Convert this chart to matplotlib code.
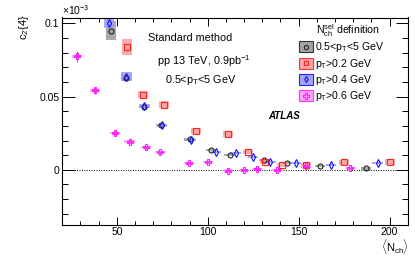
import matplotlib
matplotlib.use("Agg")
import matplotlib.pyplot as plt
from matplotlib.patches import Rectangle
from matplotlib.lines import Line2D
from matplotlib.ticker import MultipleLocator, FixedLocator, FixedFormatter

plt.rcParams['font.family'] = ['Liberation Sans', 'DejaVu Sans']
plt.rcParams['mathtext.fontset'] = 'custom'
plt.rcParams['mathtext.rm'] = 'Liberation Sans'
plt.rcParams['mathtext.it'] = 'Liberation Sans:italic'
plt.rcParams['mathtext.bf'] = 'Liberation Sans:bold'

# ---- data (c2{4} in units of 1e-3) ----
x_black = [46.8, 55.0, 65.0, 74.5, 90.0, 102.0, 112.0, 131.0, 143.5, 161.8, 187.1]
y_black = [0.0950, 0.0628, 0.0432, 0.0306, 0.0210, 0.0137, 0.0103, 0.0068, 0.0046, 0.0027, 0.0009]
s_black = [0.0065, 0.0025, 0.0012, 0.0010, 0.0010, 0.0008, 0.0008, 0.0008, 0.0008, 0.0008, 0.0008]

x_red = [55.7, 64.5, 76.0, 93.4, 111.1, 122.1, 131.3, 140.7, 154.1, 174.8, 200.4]
y_red = [0.0838, 0.0514, 0.0445, 0.0262, 0.0242, 0.0121, 0.0053, 0.0034, 0.0030, 0.0050, 0.0053]
s_red = [0.0057, 0.0025, 0.0026, 0.0020, 0.0020, 0.0016, 0.0015, 0.0012, 0.0015, 0.0015, 0.0018]

x_blue = [45.8, 55.3, 65.2, 75.0, 91.0, 104.7, 115.3, 124.8, 134.5, 148.3, 167.9, 193.4]
y_blue = [0.1000, 0.0636, 0.0436, 0.0304, 0.0205, 0.0121, 0.0114, 0.0087, 0.0053, 0.0046, 0.0034, 0.0046]
s_blue = [0.0030, 0.0030, 0.0015, 0.0010, 0.0008, 0.0006, 0.0006, 0.0006, 0.0006, 0.0006, 0.0006, 0.0006]

x_mag = [28.0, 38.0, 49.0, 57.0, 66.0, 74.0, 89.5, 100.0, 111.0, 120.0, 127.0, 138.0, 154.0, 178.5]
y_mag = [0.0774, 0.0543, 0.0251, 0.0192, 0.0155, 0.0121, 0.0046, 0.0053, -0.0005, -0.0003, 0.0005, 0.0000, 0.0023, 0.0011]
s_mag = [0.0012, 0.0012, 0.0010, 0.0010, 0.0009, 0.0008, 0.0008, 0.0008, 0.0008, 0.0008, 0.0008, 0.0008, 0.0010, 0.0008]
e_mag = [0.0035, 0.0025, 0.0012, 0.0010, 0.0010, 0.0010, 0.0008, 0.0008, 0.0008, 0.0008, 0.0008, 0.0008, 0.0010, 0.0008]

legend_labels = ["0.5<p$_{\\mathrm{T}}$<5 GeV", "p$_{\\mathrm{T}}$>0.2 GeV",
                 "p$_{\\mathrm{T}}$>0.4 GeV", "p$_{\\mathrm{T}}$>0.6 GeV"]

W, H = 415, 259
fig = plt.figure(figsize=(W / 100, H / 100), dpi=100)
L, R, T, B = 62.3, 407.7, 17.5, 224.7
ax = fig.add_axes([L / W, 1 - B / H, (R - L) / W, (B - T) / H])
ax.set_xlim(20, 210)
ax.set_ylim(-0.0375, 0.104)

def px(x, y):
    return (x / W, 1 - y / H)

series = [
    (x_black, y_black, s_black, None, '#9a9a9a', '#222222', 'o', 3.6),
    (x_red, y_red, s_red, None, '#ff9a9a', '#ff2020', 's', 4.0),
    (x_blue, y_blue, s_blue, None, '#9a9aff', '#1010ff', 'd', 3.6),
    (x_mag, y_mag, s_mag, e_mag, '#ff9aff', '#ff20ff', 'P', 4.3),
]
hw = 2.8
for xs, ys, ss, es, fc, ec, mk, ms in series:
    for xv, yv, sv in zip(xs, ys, ss):
        ax.add_patch(Rectangle((xv - hw, yv - sv), 2 * hw, 2 * sv,
                               facecolor=fc, edgecolor='none', alpha=0.85, zorder=2))
    ax.plot(xs, ys, linestyle='none', marker=mk, ms=ms, mfc='none',
            mec=ec, mew=0.8, zorder=4)
    ax.errorbar(xs, ys, yerr=es, xerr=[1.5] * len(xs) if es is not None else None,
                fmt='none', ecolor=ec, elinewidth=0.7, capsize=0, zorder=3)

ax.axhline(0, color='black', lw=0.7, ls=(0, (1, 1.5)), zorder=1)

ax.xaxis.set_major_locator(MultipleLocator(50))
ax.xaxis.set_minor_locator(MultipleLocator(10))
ax.yaxis.set_major_locator(FixedLocator([0, 0.05, 0.1]))
ax.yaxis.set_major_formatter(FixedFormatter(['0', '0.05', '0.1']))
ax.yaxis.set_minor_locator(MultipleLocator(0.01))
ax.tick_params(which='both', direction='in', top=True, right=True,
               labelsize=7.5, width=0.7, pad=2)
ax.tick_params(which='major', axis='x', length=6)
ax.tick_params(which='minor', axis='x', length=3)
ax.tick_params(which='major', axis='y', length=9)
ax.tick_params(which='minor', axis='y', length=4.5)
for sp in ax.spines.values():
    sp.set_linewidth(0.8)

fs = 7.8
fig.text(*px(148, 38), "Standard method", fontsize=fs, va='center', ha='left')
fig.text(*px(157, 61), "pp 13 TeV, 0.9pb$^{-1}$", fontsize=fs, va='center', ha='left')
fig.text(*px(165, 80), "0.5<p$_{\\mathrm{T}}$<5 GeV", fontsize=fs, va='center', ha='left')
fig.text(*px(268, 116), "ATLAS", fontsize=7, fontweight='bold', style='italic',
         va='center', ha='left')
fig.text(*px(62, 10), "\u00d710$^{-3}$", fontsize=7.5, va='center', ha='left')
fig.text(*px(24, 27), "c$_{2}${4}", fontsize=8, rotation=90, va='center', ha='center')
fig.text(*px(395, 246), "$\\langle\\mathrm{N}_{\\mathrm{ch}}\\rangle$", fontsize=8,
         va='center', ha='center')

# legend
fs_leg = 7.6
fig.text(*px(316, 31), "N$_{\\mathrm{ch}}^{\\mathrm{sel}}$ definition", fontsize=fs_leg,
         va='center', ha='left')
leg_y = [46.5, 63.3, 79.3, 95.7]
for (xs, ys, ss, es, fc, ec, mk, ms), ly, lab in zip(series, leg_y, legend_labels):
    x0, y0 = px(299, ly + 5.5)
    fig.patches.append(Rectangle((x0, y0), 14 / W, 11 / H, transform=fig.transFigure,
                                 facecolor=fc, edgecolor=ec, lw=0.8, alpha=0.9,
                                 figure=fig))
    cx, cy = px(306, ly)
    fig.add_artist(Line2D([cx], [cy], transform=fig.transFigure, marker=mk, ms=ms * 0.85,
                          mfc='none', mec=ec, mew=0.8, linestyle='none'))
    fig.text(*px(315, ly + 0.5), lab, fontsize=fs_leg, va='center', ha='left')

fig.savefig("out.png", dpi=100)
